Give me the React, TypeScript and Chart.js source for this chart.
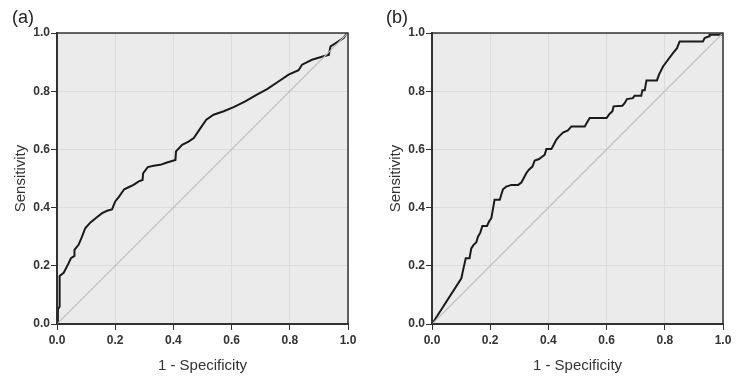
import React, { useEffect, useRef } from "react";
import { Chart, registerables } from "chart.js";

Chart.register(...registerables);

// Panel (a) ROC curve
const rocAX = [0, 0.003, 0.003, 0.009, 0.009, 0.023, 0.04, 0.048, 0.06, 0.06, 0.074, 0.086, 0.097, 0.115, 0.137, 0.155, 0.172, 0.189, 0.2, 0.212, 0.231, 0.246, 0.263, 0.281, 0.294, 0.296, 0.312, 0.332, 0.355, 0.378, 0.407, 0.409, 0.43, 0.452, 0.47, 0.493, 0.513, 0.538, 0.573, 0.607, 0.647, 0.687, 0.722, 0.756, 0.796, 0.83, 0.842, 0.876, 0.916, 0.934, 0.94, 0.962, 0.985, 0.997, 1];
const rocAY = [0, 0.04, 0.05, 0.06, 0.165, 0.176, 0.209, 0.226, 0.234, 0.255, 0.272, 0.3, 0.329, 0.349, 0.367, 0.381, 0.389, 0.394, 0.421, 0.436, 0.463, 0.47, 0.478, 0.49, 0.495, 0.518, 0.539, 0.544, 0.547, 0.555, 0.564, 0.593, 0.616, 0.627, 0.639, 0.673, 0.702, 0.719, 0.731, 0.745, 0.765, 0.788, 0.807, 0.83, 0.857, 0.872, 0.891, 0.908, 0.92, 0.925, 0.954, 0.968, 0.983, 1, 1];

// Panel (b) ROC curve
const rocBX = [0, 0.101, 0.107, 0.116, 0.129, 0.135, 0.143, 0.152, 0.158, 0.166, 0.173, 0.189, 0.196, 0.204, 0.21, 0.215, 0.233, 0.238, 0.244, 0.255, 0.273, 0.296, 0.307, 0.315, 0.324, 0.333, 0.345, 0.353, 0.368, 0.376, 0.387, 0.393, 0.41, 0.416, 0.427, 0.436, 0.45, 0.467, 0.479, 0.525, 0.533, 0.542, 0.6, 0.61, 0.62, 0.624, 0.654, 0.662, 0.67, 0.69, 0.696, 0.719, 0.723, 0.731, 0.737, 0.773, 0.78, 0.794, 0.811, 0.828, 0.842, 0.851, 0.931, 0.937, 0.952, 0.954, 0.994, 1];
const rocBY = [0, 0.157, 0.186, 0.226, 0.226, 0.26, 0.272, 0.28, 0.3, 0.314, 0.337, 0.337, 0.352, 0.364, 0.398, 0.427, 0.427, 0.444, 0.463, 0.472, 0.478, 0.478, 0.486, 0.501, 0.518, 0.53, 0.541, 0.562, 0.567, 0.573, 0.581, 0.601, 0.601, 0.612, 0.633, 0.644, 0.658, 0.665, 0.679, 0.679, 0.693, 0.708, 0.708, 0.722, 0.731, 0.748, 0.75, 0.759, 0.773, 0.776, 0.784, 0.784, 0.803, 0.803, 0.837, 0.837, 0.857, 0.885, 0.908, 0.931, 0.948, 0.971, 0.971, 0.983, 0.989, 0.994, 0.994, 1];

// Reference diagonal
const diagX = [0, 1];
const diagY = [0, 1];

const tickValues = [0, 0.2, 0.4, 0.6, 0.8, 1.0];
const panelLabels = ["(a)", "(b)"];
const xTitle = "1 - Specificity";
const yTitle = "Sensitivity";

const toPoints = (xs: number[], ys: number[]) => xs.map((x, i) => ({ x, y: ys[i] }));

const frame = {
  id: "frame",
  beforeDraw(chart: any) {
    const { ctx, chartArea: a } = chart;
    ctx.save();
    ctx.fillStyle = "#ebebeb";
    ctx.fillRect(a.left, a.top, a.right - a.left, a.bottom - a.top);
    ctx.restore();
  },
  afterDraw(chart: any) {
    const { ctx, chartArea: a } = chart;
    ctx.save();
    ctx.strokeStyle = "#333";
    ctx.lineWidth = 1.5;
    ctx.strokeRect(a.left, a.top, a.right - a.left, a.bottom - a.top);
    ctx.restore();
  },
};

function Panel({ xs, ys, yWidth, padRight, titlePad }: { xs: number[]; ys: number[]; yWidth: number; padRight: number; titlePad: number }) {
  const ref = useRef<HTMLCanvasElement | null>(null);
  useEffect(() => {
    if (!ref.current) return;
    const tickFont = { family: "'Liberation Sans', Arial, sans-serif", size: 12, weight: "bold" as const };
    const titleFont = { family: "'Liberation Sans', Arial, sans-serif", size: 15 };
    const chart = new Chart(ref.current, {
      type: "scatter",
      data: {
        datasets: [
          {
            data: toPoints(diagX, diagY),
            showLine: true,
            borderColor: "#bdbdbd",
            borderWidth: 1.2,
            pointRadius: 0,
          },
          {
            data: toPoints(xs, ys),
            showLine: true,
            borderColor: "#1a1a1a",
            borderWidth: 2,
            pointRadius: 0,
            tension: 0,
          },
        ],
      },
      plugins: [frame],
      options: {
        responsive: false,
        animation: false,
        events: [],
        layout: { padding: { left: 0, right: padRight, top: 33, bottom: 0 } },
        plugins: { legend: { display: false }, tooltip: { enabled: false } },
        scales: {
          x: {
            type: "linear",
            min: 0,
            max: 1,
            afterBuildTicks: (s: any) => {
              s.ticks = tickValues.map((v) => ({ value: v }));
            },
            afterFit: (s: any) => {
              s.height = 62;
            },
            ticks: {
              callback: (v: any) => Number(v).toFixed(1),
              font: tickFont,
              color: "#333",
              padding: 3,
              maxRotation: 0,
            },
            grid: { color: "#dcdcdc", tickColor: "#333", tickLength: 6, lineWidth: 1 },
            border: { display: true, color: "#333", width: 2 },
            title: { display: true, text: xTitle, font: titleFont, color: "#333", padding: { top: 0, bottom: 11 } },
          },
          y: {
            type: "linear",
            min: 0,
            max: 1,
            afterBuildTicks: (s: any) => {
              s.ticks = tickValues.map((v) => ({ value: v }));
            },
            afterFit: (s: any) => {
              s.width = yWidth;
            },
            ticks: {
              callback: (v: any) => Number(v).toFixed(1),
              font: tickFont,
              color: "#333",
              padding: 1,
            },
            grid: { color: "#dcdcdc", tickColor: "#333", tickLength: 6, lineWidth: 1 },
            border: { display: true, color: "#333", width: 2 },
            title: { display: true, text: yTitle, font: titleFont, color: "#333", padding: { top: titlePad, bottom: 0 } },
          },
        },
      },
    } as any);
    return () => chart.destroy();
  }, []);
  return <canvas ref={ref} width={370} height={386} style={{ width: 370, height: 386, display: "block" }} />;
}

export default function App() {
  const labelStyle: React.CSSProperties = {
    position: "absolute",
    top: 8,
    fontFamily: "'Liberation Sans', Arial, sans-serif",
    fontSize: 18,
    lineHeight: "18px",
    color: "#222",
  };
  return (
    <div style={{ position: "absolute", left: 0, top: 0, width: 740, height: 386, background: "#fff", overflow: "hidden" }}>
      <div style={{ position: "absolute", left: 0, top: 0 }}>
        <Panel xs={rocAX} ys={rocAY} yWidth={57} padRight={22} titlePad={11.6} />
      </div>
      <div style={{ position: "absolute", left: 370, top: 0 }}>
        <Panel xs={rocBX} ys={rocBY} yWidth={62} padRight={17} titlePad={16.6} />
      </div>
      <div style={{ ...labelStyle, left: 12 }}>{panelLabels[0]}</div>
      <div style={{ ...labelStyle, left: 386 }}>{panelLabels[1]}</div>
    </div>
  );
}
